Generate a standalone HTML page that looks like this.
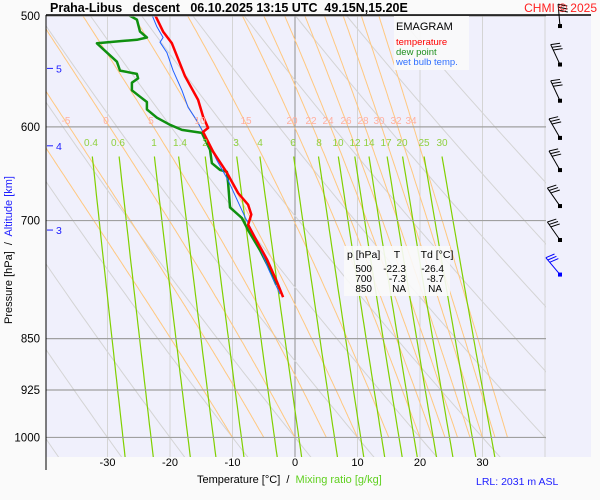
<!DOCTYPE html>
<html><head><meta charset="utf-8"><style>
body{margin:0;background:#fafafa;width:600px;height:500px;overflow:hidden;font-family:"Liberation Sans",sans-serif}
svg{display:block}
text{white-space:pre}
</style></head><body>
<svg id="chart" width="600" height="500" xmlns="http://www.w3.org/2000/svg">
<rect x="0" y="0" width="600" height="500" fill="#fafafa"/>
<rect x="46" y="15" width="545" height="442" fill="#f0f0fc"/>
<defs><clipPath id="clip"><rect x="46" y="15" width="500" height="442"/></clipPath></defs>
<g id="grid" clip-path="url(#clip)"></g>
<g id="series" clip-path="url(#clip)"></g>
<g id="labels"></g>
<g id="barbs"></g>
<line x1="46" y1="15" x2="591" y2="15" stroke="#000" stroke-width="1.5"/>
<line x1="46" y1="15" x2="46" y2="470" stroke="#000" stroke-width="1"/>
<text x="50" y="12" font-size="12.5" font-weight="bold" xml:space="preserve">Praha-Libus   descent   06.10.2025 13:15 UTC  49.15N,15.20E</text>
<text x="597" y="12" font-size="12" fill="#ff2020" text-anchor="end">CHMI © 2025</text>
<rect x="394" y="16" width="75" height="54" fill="#fafafa" opacity="0.9"/>
<text x="396" y="30" font-size="11">EMAGRAM</text>
<text x="396" y="45" font-size="9.5" fill="#ff0000">temperature</text>
<text x="396" y="55" font-size="9.5" fill="#209020">dew point</text>
<text x="396" y="65" font-size="9.5" fill="#3070ff">wet bulb temp.</text>
<rect x="344" y="246" width="106" height="50" fill="#fafafa" opacity="0.9"/>
<g font-size="10.5">
<text x="347" y="258">p [hPa]</text><text x="397" y="258" text-anchor="middle">T</text><text x="437" y="258" text-anchor="middle">Td [°C]</text>
<text x="372" y="272" text-anchor="end" font-size="10">500</text><text x="406" y="272" text-anchor="end" font-size="10">-22.3</text><text x="444" y="272" text-anchor="end" font-size="10">-26.4</text>
<text x="372" y="282" text-anchor="end" font-size="10">700</text><text x="406" y="282" text-anchor="end" font-size="10">-7.3</text><text x="444" y="282" text-anchor="end" font-size="10">-8.7</text>
<text x="372" y="292" text-anchor="end" font-size="10">850</text><text x="406" y="292" text-anchor="end" font-size="10">NA</text><text x="442" y="292" text-anchor="end" font-size="10">NA</text>
</g>
<text x="197" y="483" font-size="11" xml:space="preserve">Temperature [°C]  /  <tspan fill="#60d020">Mixing ratio [g/kg]</tspan></text>
<text x="476" y="485" font-size="10.5" fill="#2020ff">LRL: 2031 m ASL</text>
<text transform="translate(12,250) rotate(-90)" font-size="11" text-anchor="middle" xml:space="preserve">Pressure [hPa]  /  <tspan fill="#2020ff">Altitude [km]</tspan></text>
</svg>
<script>
const pressureLevels=[500,600,700,850,925,1000];
const tempTicks=[-30,-20,-10,0,10,20,30];
const altLabels=[5,4,3];
const altPressures=[545,619,711];
const tP=[499,513,523,552,574,590,601,605,625,647,669,682,693,705,720,746,774,794];
const tT=[-22.4,-21.1,-19.7,-17.6,-15.5,-14.7,-13.9,-14.7,-13.1,-10.9,-9.1,-7.5,-7.0,-7.5,-6.4,-4.5,-2.9,-1.9];
const dP=[499,503,513,518,520,521,523,531,539,547,550,554,558,565,571,576,583,591,598,603,606,623,637,644,646,658,685,697,711,735,759,778];
const dT=[-26.7,-25.3,-24.8,-23.7,-25.3,-27.7,-31.7,-30.1,-28.5,-28.0,-25.3,-25.1,-26.1,-26.1,-24.8,-23.7,-23.7,-22.1,-20.0,-18.1,-14.9,-13.6,-13.3,-12.0,-10.9,-10.7,-10.4,-8.5,-7.5,-5.6,-4.0,-3.0];
const wP=[499,509,518,522,531,547,565,581,594,603,634,655,696,723,759,790];
const wT=[-22.9,-22.1,-21.1,-21.6,-20.5,-19.5,-18.1,-17.1,-15.7,-14.9,-12.5,-10.7,-8.0,-6.1,-4.2,-2.4];
const mixRatios=[0.4,0.6,1,1.4,2,3,4,6,8,10,12,14,17,20,25,30];
const moistThetaW=[-10,-5,0,5,10,15,20,22,24,26,28,30,32,34];
const dryT1000=[-50,-40,-30,-20,-10,0,10,20,30,40,50,60,70,80];
const windP=[505,538,571,607,640,679,718,760];
const windDir=[355,335,335,330,330,325,325,320];

const NS="http://www.w3.org/2000/svg";
const X=t=>295+6.25*t;
const Y=p=>16+608*Math.log(p/500);
function el(tag,attrs,parent){const e=document.createElementNS(NS,tag);for(const k in attrs)e.setAttribute(k,attrs[k]);parent.appendChild(e);return e;}
const grid=document.getElementById('grid'),ser=document.getElementById('series'),lab=document.getElementById('labels'),barbs=document.getElementById('barbs');
function poly(pts,stroke,w,parent,name){const e=el('polyline',{points:pts.map(p=>p[0].toFixed(1)+','+p[1].toFixed(1)).join(' '),fill:'none',stroke:stroke,'stroke-width':w,'stroke-linejoin':'round'},parent);

return e;}
const es=t=>6.112*Math.exp(17.67*t/(t+243.5));
for(let t=-40;t<=40;t+=10){const l=el('line',{x1:X(t),y1:15,x2:X(t),y2:457,stroke:t===0?'#909090':'#d4d4d4','stroke-width':1},grid);

}
dryT1000.forEach(t0=>{const th=t0+273.15;const pts=[];for(let p=480;p<=1060;p+=10)pts.push([X(th*Math.pow(p/1000,0.286)-273.15),Y(p)]);poly(pts,'#d4d4d4',1,grid,'dry-adiabat');});
function moist(tw){const eps=0.622,Rd=287,cp=1005,Lv=2.5e6;const res={};const step=(T,p,dp)=>{const tc=T-273.15,e=es(tc),rs=eps*e/(p-e);const g=(Rd*T+Lv*rs)/(p*(cp+Lv*Lv*rs*eps/(Rd*T*T)));return T+g*dp;};
let T=tw+273.15;for(let p=1000;p>=480;p-=2){res[p]=T;T=step(T,p,-2);}
return Object.keys(res).map(Number).sort((a,b)=>a-b).map(p=>[X(res[p]-273.15),Y(p)]);}
moistThetaW.forEach(tw=>{poly(moist(tw),'#ffc880',1,grid,'moist-adiabat');});
mixRatios.forEach(w=>{const pts=[];for(let p=630;p<=1060;p+=10){const e=w/1000*p/(0.622+w/1000);const L=Math.log(e/6.112);pts.push([X(243.5*L/(17.67-L)),Y(p)]);}poly(pts,'#80d000',1.2,grid,'mixing-ratio-line');});
pressureLevels.forEach(p=>{const l=el('line',{x1:46,y1:Y(p),x2:546,y2:Y(p),stroke:'#a0a0a0','stroke-width':1.2},p===500?lab:grid);


const t=el('text',{x:40,y:Y(p)+4,'font-size':11.5,'text-anchor':'end'},lab);t.textContent=p;

});
tempTicks.forEach(v=>{const t=el('text',{x:X(v),y:466,'font-size':11,'text-anchor':'middle'},lab);t.textContent=v;

});
altLabels.forEach((a,i)=>{const y=Y(altPressures[i]);el('line',{x1:47,y1:y,x2:53,y2:y,stroke:'#2020ff'},lab);const t=el('text',{x:56,y:y+4,'font-size':10.5,fill:'#2020ff'},lab);t.textContent=a;

});
const mLab=[['-5',66],['0',106],['5',151],['10',200],['15',246],['20',292],['22',311],['24',328],['26',346],['28',363],['30',379],['32',396],['34',411]];
mLab.forEach(m=>{const t=el('text',{x:m[1],y:124,'font-size':10,fill:'#ffb0a0','text-anchor':'middle'},lab);t.textContent=m[0];

});
const wx=[91,118,154,180,205,236,260,293,319,338,355,369,386,402,424,442];
mixRatios.forEach((w,i)=>{const t=el('text',{x:wx[i],y:146,'font-size':10,fill:'#90d040','text-anchor':'middle'},lab);t.textContent=w;

});
poly(dP.map((p,i)=>[X(dT[i]),Y(p)]),'#109010',2.5,ser,'dew-point-line');
poly(wP.map((p,i)=>[X(wT[i]),Y(p)]),'#2060ff',1,ser,'wet-bulb-line');
poly(tP.map((p,i)=>[X(tT[i]),Y(p)]),'#ff0000',2.5,ser,'temperature-line');
windP.forEach((p,i)=>{const last=i===windP.length-1;const c=last?'#0000ff':'#000';const x0=560,y0=Y(p)+4;const a=windDir[i]*Math.PI/180;const dx=Math.sin(a),dy=-Math.cos(a);const L=22;
const g=el('g',{},barbs);

el('rect',{x:x0-2,y:y0-2,width:4,height:4,fill:c},g);el('line',{x1:x0,y1:y0,x2:x0+dx*L,y2:y0+dy*L,stroke:c},g);
const px=-dy,py=dx;
for(let k=0;k<3;k++){const bx=x0+dx*(L-k*3),by=y0+dy*(L-k*3);el('line',{x1:bx,y1:by,x2:bx+(px-dx*0.3)*9,y2:by+(py-dy*0.3)*9,stroke:c},g);}});
</script>
</body></html>
